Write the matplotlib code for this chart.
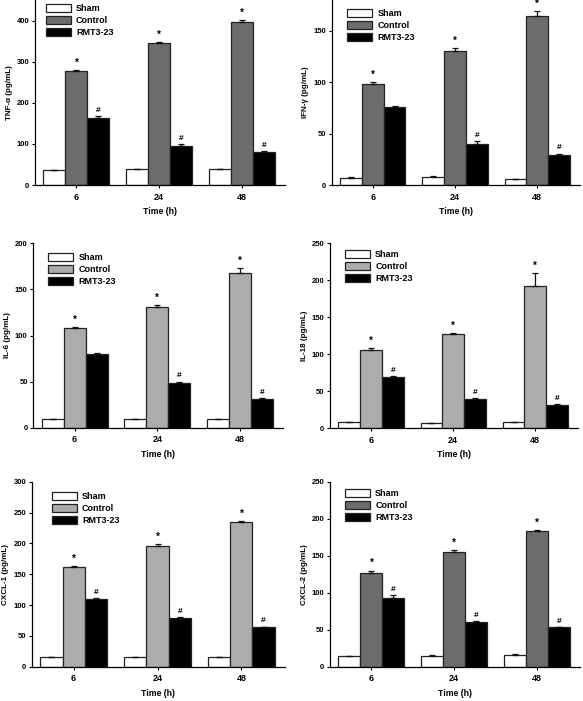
import matplotlib
matplotlib.use("Agg")
import matplotlib.pyplot as plt
import numpy as np

plt.rcParams['font.family'] = ['Liberation Sans', 'DejaVu Sans']
plt.rcParams['font.weight'] = 'bold'

times = ["6", "24", "48"]
groups = ["Sham", "Control", "RMT3-23"]

# TNF-a
tnf_sham = [36, 38, 38]
tnf_ctrl = [277, 345, 397]
tnf_rmt = [164, 96, 81]
tnf_sham_err = [1, 1, 1]
tnf_ctrl_err = [3, 3, 5]
tnf_rmt_err = [3, 3, 2]

# IFN-y
ifn_sham = [7, 8, 5.5]
ifn_ctrl = [98, 130, 164]
ifn_rmt = [76, 40, 29.5]
ifn_sham_err = [0.8, 0.8, 0.6]
ifn_ctrl_err = [2, 3, 5]
ifn_rmt_err = [1, 2.5, 1]

# IL-6
il6_sham = [9, 9, 9]
il6_ctrl = [108, 131, 168]
il6_rmt = [80, 49, 31.5]
il6_sham_err = [0.5, 0.5, 0.5]
il6_ctrl_err = [1, 2, 5]
il6_rmt_err = [1, 1, 1]

# IL-18
il18_sham = [8, 7, 8]
il18_ctrl = [106, 127, 192]
il18_rmt = [70, 40, 32]
il18_sham_err = [0.5, 0.5, 0.5]
il18_ctrl_err = [3, 2, 18]
il18_rmt_err = [1, 1, 1]

# CXCL-1
cx1_sham = [16, 15, 15]
cx1_ctrl = [161, 195, 234]
cx1_rmt = [109, 79, 64]
cx1_sham_err = [0.5, 0.5, 0.5]
cx1_ctrl_err = [3, 4, 2]
cx1_rmt_err = [2, 2, 1]

# CXCL-2
cx2_sham = [14, 15, 16]
cx2_ctrl = [127, 155, 183]
cx2_rmt = [93, 60, 53]
cx2_sham_err = [0.5, 0.5, 0.5]
cx2_ctrl_err = [3, 3, 2]
cx2_rmt_err = [4, 2, 1]

ctrl_marks = ["*", "*", "*"]
tnf_rmt_marks = ["#", "#", "#"]
ifn_rmt_marks = ["", "#", "#"]
il6_rmt_marks = ["", "#", "#"]
il18_rmt_marks = ["#", "#", "#"]
cx1_rmt_marks = ["#", "#", "#"]
cx2_rmt_marks = ["#", "#", "#"]

DARK = "#6c6c6c"
LIGHT = "#acacac"

W, H = 583, 701
fig = plt.figure(figsize=(W / 100, H / 100), dpi=100)

def rect(l, r, top, bot):
    return [l / W, (H - bot) / H, (r - l) / W, (bot - top) / H]

panels = [
    dict(rect=rect(35, 285, 0, 185), ylabel="TNF-α (pg/mL)", ylim=451, yticks=[0, 100, 200, 300, 400],
         data=(tnf_sham, tnf_ctrl, tnf_rmt), err=(tnf_sham_err, tnf_ctrl_err, tnf_rmt_err),
         ctrl_color=DARK, rmarks=tnf_rmt_marks, leg=(10.7, 4)),
    dict(rect=rect(331.7, 580, 0, 185), ylabel="IFN-γ (pg/mL)", ylim=180, yticks=[0, 50, 100, 150],
         data=(ifn_sham, ifn_ctrl, ifn_rmt), err=(ifn_sham_err, ifn_ctrl_err, ifn_rmt_err),
         ctrl_color=DARK, rmarks=ifn_rmt_marks, leg=(15.6, 9.3)),
    dict(rect=rect(33.3, 283, 243.3, 427.7), ylabel="IL-6 (pg/mL)", ylim=200, yticks=[0, 50, 100, 150, 200],
         data=(il6_sham, il6_ctrl, il6_rmt), err=(il6_sham_err, il6_ctrl_err, il6_rmt_err),
         ctrl_color=LIGHT, rmarks=il6_rmt_marks, leg=(15, 10)),
    dict(rect=rect(330, 578, 243.3, 428.3), ylabel="IL-18 (pg/mL)", ylim=250, yticks=[0, 50, 100, 150, 200, 250],
         data=(il18_sham, il18_ctrl, il18_rmt), err=(il18_sham_err, il18_ctrl_err, il18_rmt_err),
         ctrl_color=LIGHT, rmarks=il18_rmt_marks, leg=(15, 6.7)),
    dict(rect=rect(31.7, 285, 481.7, 666.7), ylabel="CXCL-1 (pg/mL)", ylim=300, yticks=[0, 50, 100, 150, 200, 250, 300],
         data=(cx1_sham, cx1_ctrl, cx1_rmt), err=(cx1_sham_err, cx1_ctrl_err, cx1_rmt_err),
         ctrl_color=LIGHT, rmarks=cx1_rmt_marks, leg=(20, 10.6)),
    dict(rect=rect(330, 580, 481.7, 666.7), ylabel="CXCL-2 (pg/mL)", ylim=250, yticks=[0, 50, 100, 150, 200, 250],
         data=(cx2_sham, cx2_ctrl, cx2_rmt), err=(cx2_sham_err, cx2_ctrl_err, cx2_rmt_err),
         ctrl_color=DARK, rmarks=cx2_rmt_marks, leg=(15, 7.3)),
]

x = np.arange(len(times))
bw = 0.265

for p in panels:
    ax = fig.add_axes(p["rect"])
    colors = ["white", p["ctrl_color"], "black"]
    offsets = [-bw, 0, bw]
    for vals, errs, c, off, lab in zip(p["data"], p["err"], colors, offsets, groups):
        ax.bar(x + off, vals, width=bw, color=c, edgecolor="#222222", linewidth=0.9, label=lab, zorder=2)
        ax.errorbar(x + off, vals, yerr=[np.zeros(len(errs)), errs], fmt="none", ecolor="#111111",
                    elinewidth=0.9, capsize=2.2, capthick=0.9, zorder=3)
    ymax = p["ylim"]
    pad = ymax * 0.012
    for i in range(len(times)):
        cv = p["data"][1][i] + p["err"][1][i] + pad
        if ctrl_marks[i]:
            ax.text(x[i], cv, ctrl_marks[i], ha="center", va="bottom", fontsize=7, fontweight="bold")
        rv = p["data"][2][i] + p["err"][2][i] + pad
        if p["rmarks"][i]:
            ax.text(x[i] + bw, rv, p["rmarks"][i], ha="center", va="bottom", fontsize=6, fontweight="bold")
    ax.set_xlim(-0.5, 2.52)
    ax.set_ylim(0, ymax)
    ax.set_yticks(p["yticks"])
    ax.set_xticks(x)
    ax.set_xticklabels(times, fontsize=6.5, fontweight="bold")
    ax.tick_params(axis="y", labelsize=5.5, length=2.5, width=0.8, pad=1.5)
    ax.tick_params(axis="x", length=2.5, width=0.8, pad=3)
    for s in ["top", "right"]:
        ax.spines[s].set_visible(False)
    for s in ["left", "bottom"]:
        ax.spines[s].set_linewidth(0.9)
    ax.set_ylabel(p["ylabel"], fontsize=5.8, fontweight="bold", labelpad=3)
    ax.set_xlabel("Time (h)", fontsize=6.3, fontweight="bold", labelpad=4)
    axw = p["rect"][2] * W
    axh = p["rect"][3] * H
    dx, dy = p["leg"]
    leg = ax.legend(loc="upper left", bbox_to_anchor=(dx / axw, 1 - dy / axh), frameon=False,
                    fontsize=6.5, handlelength=2.75, handleheight=1.0, labelspacing=0.32,
                    handletextpad=0.6, borderaxespad=0.0, borderpad=0.0)
    for t in leg.get_texts():
        t.set_fontweight("bold")

fig.savefig("out.png", dpi=100)
